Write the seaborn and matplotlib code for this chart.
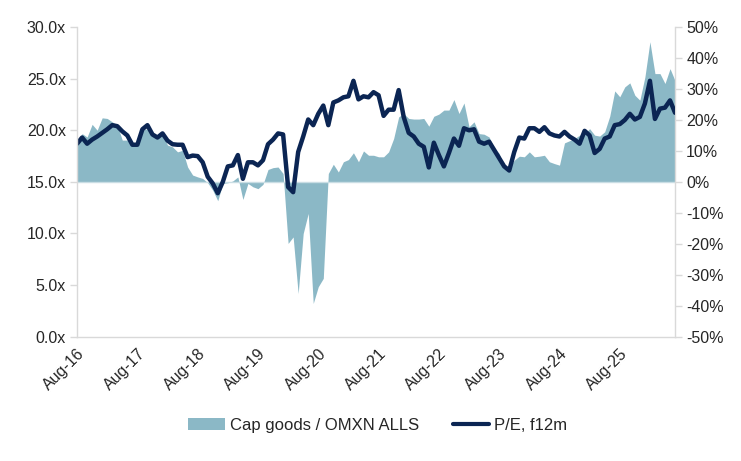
import matplotlib
matplotlib.use("Agg")
import matplotlib.pyplot as plt
import numpy as np
import pandas as pd
import seaborn as sns
from matplotlib.patches import Patch
from matplotlib.lines import Line2D

# monthly data, Aug-16 onwards
tick_labels = ["Aug-16", "Aug-17", "Aug-18", "Aug-19", "Aug-20",
               "Aug-21", "Aug-22", "Aug-23", "Aug-24", "Aug-25"]

pe_f12m = [
    18.7, 19.3, 18.7, 19.1, 19.4, 19.75, 20.1, 20.5, 20.4, 19.9, 19.5, 18.6,
    18.6, 20.1, 20.5, 19.6, 19.3, 19.7, 19.0, 18.65, 18.6, 18.6, 17.4, 17.55,
    17.5, 16.9, 15.5, 14.85, 13.9, 15.0, 16.5, 16.6, 17.6, 15.3, 16.9, 16.9,
    16.6, 17.1, 18.65, 19.1, 19.7, 19.6, 14.5, 14.0, 17.9, 19.4, 21.05, 20.5,
    21.6, 22.4, 20.5, 22.7, 22.9, 23.2, 23.3, 24.8, 23.0, 23.3, 23.2, 23.7,
    23.4, 21.4, 22.0, 22.0, 23.9, 21.3, 19.75, 19.4, 18.7, 18.4, 16.4, 18.8,
    17.6, 16.5, 17.8, 19.2, 18.5, 20.2, 20.0, 20.1, 18.9, 18.7, 18.9, 18.1,
    17.3, 16.5, 16.1, 17.9, 19.3, 19.2, 20.2, 20.2, 19.85, 20.3, 19.7, 19.5,
    19.4, 19.85, 19.4, 19.1, 18.7, 19.95, 19.5, 17.8, 18.2, 19.2, 19.4, 20.5,
    20.6, 21.0, 21.6, 21.05, 21.3, 22.6, 24.8, 21.1, 22.1, 22.2, 22.9, 21.7,
]

cap_goods_rel = [
    11.9, 15.6, 14.5, 18.6, 16.7, 20.7, 20.5, 19.4, 18.3, 13.5, 13.5, 12.4,
    12.6, 16.7, 17.2, 15.4, 14.5, 15.4, 11.9, 11.3, 9.7, 10.2, 4.8, 2.2,
    1.6, 1.1, -0.3, -2.7, -6.1, -0.5, -0.3, 0.3, 1.6, -5.7, -0.5, -1.6,
    -2.2, -0.8, 4.0, 4.6, 4.8, 2.7, -19.9, -17.8, -36.1, -16.7, -10.2, -39.3,
    -33.9, -31.2, 2.7, 5.7, 3.2, 6.5, 7.2, 9.4, 6.5, 10.0, 8.6, 8.6,
    8.1, 8.1, 9.7, 14.0, 21.0, 22.1, 20.5, 20.3, 20.3, 20.5, 18.0, 21.2,
    21.9, 23.2, 23.2, 26.6, 22.1, 25.5, 17.8, 19.4, 15.6, 15.4, 14.5, 10.8,
    9.2, 4.8, 4.8, 7.0, 8.3, 8.1, 9.7, 8.1, 8.3, 8.6, 6.5, 5.9,
    5.4, 12.6, 13.3, 14.0, 15.1, 15.6, 17.2, 15.1, 14.8, 16.2, 21.2, 29.4,
    27.5, 30.7, 32.0, 28.0, 26.4, 33.9, 45.3, 35.0, 35.0, 31.8, 36.6, 32.7,
]

df = pd.DataFrame({
    "month": np.arange(len(pe_f12m)),
    "pe": pe_f12m,
    "rel": np.array(cap_goods_rel) / 100.0,
})

sns.set_theme(style="white")
plt.rcParams["font.family"] = ["Liberation Sans", "DejaVu Sans"]

navy = "#0B2553"
teal = "#8BB8C6"
grey = "#D9D9D9"
text_col = "#262626"

fig = plt.figure(figsize=(7.41, 4.61), dpi=100)
ax = fig.add_axes([0.104, 0.270, 0.807, 0.671])
ax2 = ax.twinx()

# area on the right axis (relative valuation)
ax2.fill_between(df["month"], 0, df["rel"], color=teal, linewidth=0, zorder=1)
ax2.axhline(0, color="#C9DDE4", linewidth=1, zorder=1)
ax2.set_ylim(-0.5, 0.5)
ax2.set_yticks(np.arange(-0.5, 0.51, 0.1))
ax2.set_yticklabels([f"{v:.0f}%" for v in np.arange(-50, 51, 10)])

# P/E line on the left axis, drawn on top
ax.set_zorder(ax2.get_zorder() + 1)
ax.patch.set_visible(False)
sns.lineplot(data=df, x="month", y="pe", ax=ax, color=navy, linewidth=3.2,
             legend=False)
ax.set_ylim(0, 30)
ax.set_yticks(np.arange(0, 31, 5))
ax.set_yticklabels([f"{v:.1f}x" for v in np.arange(0, 31, 5)])
ax.set_xlim(0, len(pe_f12m) - 1)
ax.set_xticks(np.arange(0, 12 * len(tick_labels), 12))
ax.set_xticklabels(tick_labels, rotation=45, ha="right", rotation_mode="anchor")
ax.set_xlabel("")
ax.set_ylabel("")

for a in (ax, ax2):
    a.spines["top"].set_visible(False)
    for s in ("left", "right", "bottom"):
        a.spines[s].set_color(grey)
        a.spines[s].set_linewidth(1)
    a.tick_params(axis="both", length=5, width=1, color=grey, labelsize=11.5,
                  labelcolor=text_col, direction="out", pad=3)
    a.grid(False)
ax.spines["right"].set_visible(False)
ax2.spines["left"].set_visible(False)
ax2.spines["bottom"].set_visible(False)
ax.tick_params(axis="x", pad=2)

handles = [Patch(facecolor=teal, edgecolor="none", label="Cap goods / OMXN ALLS"),
           Line2D([0], [0], color=navy, linewidth=3, label="P/E, f12m")]
fig.legend(handles=handles, loc="center", bbox_to_anchor=(0.51, 0.078), ncol=2,
           frameon=False, fontsize=12, handlelength=2.2, handletextpad=0.3,
           columnspacing=2.0, labelcolor=text_col)

fig.savefig("out.png", dpi=100)
